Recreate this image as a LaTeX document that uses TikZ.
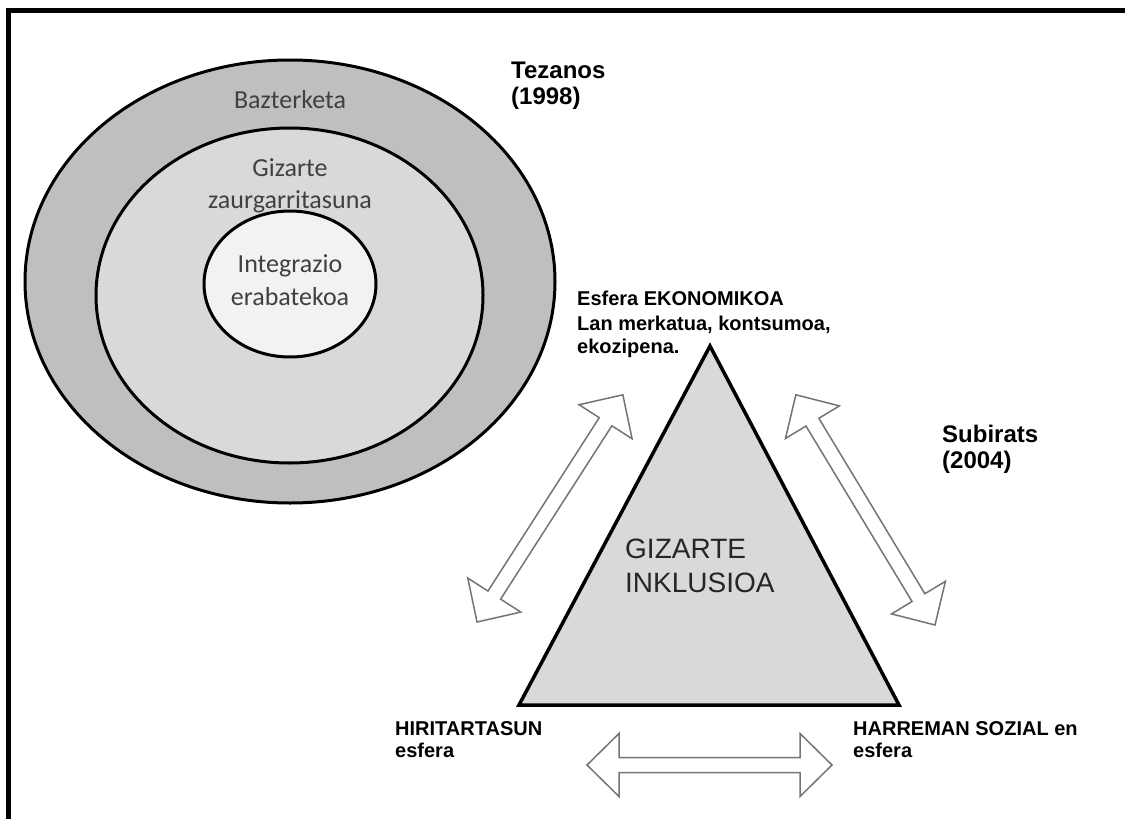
\documentclass[tikz,border=0pt]{standalone}
\usepackage{fontspec}
\setmainfont{Liberation Sans}
\newfontfamily\calibrifont{Carlito}
\usetikzlibrary{shapes.geometric}
\definecolor{ringA}{HTML}{BFBFBF}
\definecolor{ringB}{HTML}{D9D9D9}
\definecolor{ringC}{HTML}{F2F2F2}
\definecolor{txtgray}{HTML}{404040}
\definecolor{arrowedge}{HTML}{747474}
\newcommand\blockarr[4]{%
  \begin{scope}[shift={(#1,#2)}, rotate=#3]
    \draw[blockarrow] (0,0) -- (32,31.5) -- (32,7.5) -- ({#4-32},7.5) -- ({#4-32},31.5) -- (#4,0)
      -- ({#4-32},-31.5) -- ({#4-32},-7.5) -- (32,-7.5) -- (32,-31.5) -- cycle;
  \end{scope}}
\begin{document}
\begin{tikzpicture}[x=1pt,y=-1pt,
  ring/.style={ellipse, draw=black, line width=3pt, inner sep=0pt},
  circtext/.style={font=\calibrifont\fontsize{26}{30}\selectfont, text=txtgray, inner sep=0pt, anchor=base},
  boldlabel/.style={font=\bfseries\fontsize{20}{24}\selectfont, inner sep=0pt, anchor=base west},
  authorlabel/.style={font=\bfseries\fontsize{24}{28}\selectfont, inner sep=0pt, anchor=base west},
  centerlabel/.style={font=\fontsize{28}{32}\selectfont, text=black!85, inner sep=0pt, anchor=base west},
  blockarrow/.style={draw=arrowedge, fill=white, line width=1.5pt, line join=miter},
]
\useasboundingbox (0,0) rectangle (1125,819);
\fill[white] (0,0) rectangle (1125,819);
% frame (top and left edges)
\draw[line width=4.6pt, line join=miter] (8.5,819) -- (8.5,10.3) -- (1125,10.3);

% Tezanos ellipses
\node[ring, fill=ringA, minimum width=530pt, minimum height=443pt] (outer) at (290,281.5) {};
\node[ring, fill=ringB, minimum width=387pt, minimum height=335pt] (middle) at (289.5,295.5) {};
\node[ring, fill=ringC, minimum width=172pt, minimum height=146pt] (inner) at (290,284) {};

\node[circtext] (bazt) at (290,108) {Bazterketa};
\node[circtext] (giz1) at (290,176) {Gizarte};
\node[circtext] (giz2) at (290,208) {zaurgarritasuna};
\node[circtext] (int1) at (290,272) {Integrazio};
\node[circtext] (int2) at (290,305) {erabatekoa};

\node[authorlabel] (tez1) at (511,78) {Tezanos};
\node[authorlabel] (tez2) at (511,104) {(1998)};

% Subirats triangle
\coordinate (apex) at (710,346);
\coordinate (bl) at (519,705);
\coordinate (br) at (899,705);
\draw[fill=ringB, line width=3.5pt, line join=miter] (bl) -- (apex) -- (br) -- cycle;

\node[centerlabel] (incl1) at (625,558) {GIZARTE};
\node[centerlabel] (incl2) at (625,592) {INKLUSIOA};

\node[boldlabel] (eko1) at (577,305) {Esfera EKONOMIKOA};
\node[boldlabel] (eko2) at (577,330) {Lan merkatua, kontsumoa,};
\node[boldlabel] (eko3) at (577,353) {ekozipena.};

\node[boldlabel] (hir1) at (395,735) {HIRITARTASUN};
\node[boldlabel] (hir2) at (395,757) {esfera};

\node[boldlabel] (har1) at (853,735) {HARREMAN SOZIAL en};
\node[boldlabel] (har2) at (853,757) {esfera};

\node[authorlabel] (sub1) at (942,442) {Subirats};
\node[authorlabel] (sub2) at (942,468) {(2004)};

% double block arrows
\blockarr{477}{622}{57.3}{270}
\blockarr{935}{625}{121.15}{269}
\blockarr{587}{765}{0}{245}
\end{tikzpicture}
\end{document}
